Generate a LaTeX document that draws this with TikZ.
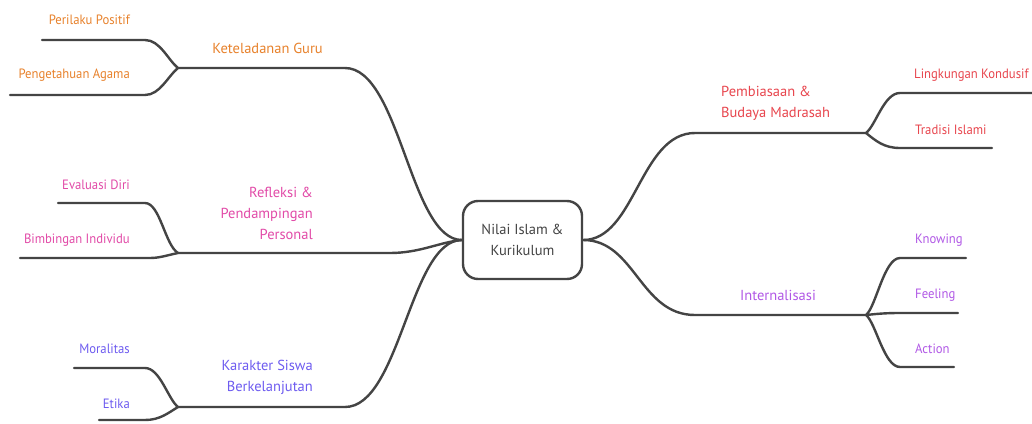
\documentclass[tikz,border=0pt]{standalone}
\usepackage{fontspec}
\setmainfont{PT Sans}
\newfontfamily\leaffont[FakeStretch=0.94]{PT Sans}
\definecolor{cOr}{HTML}{E8822C}
\definecolor{cPk}{HTML}{E24BA8}
\definecolor{cBl}{HTML}{6E5CF0}
\definecolor{cRd}{HTML}{E8464E}
\definecolor{cPu}{HTML}{B158E6}
\definecolor{cLn}{HTML}{444444}
\begin{document}
\begin{tikzpicture}[x=1pt,y=-1pt,
  br/.style={draw=cLn,line width=2.4pt,line cap=round},
  lab/.style={inner sep=0pt,font=\leaffont\fontsize{13.5}{16}\selectfont},
  mlab/.style={inner sep=0pt,font=\fontsize{14.5}{21}\selectfont,align=right},
]
\useasboundingbox (0,0) rectangle (1032,423);
\fill[white] (0,0) rectangle (1032,423);
% centre
\node[draw=cLn,line width=2.4pt,rounded corners=15pt,minimum width=119pt,minimum height=78pt,
  align=center,text=cLn,font=\fontsize{14.5}{21}\selectfont] (c) at (522.5,240) {Nilai Islam \&\\Kurikulum};
% fork points
\coordinate (f1) at (178,68);
\coordinate (f2) at (178,253);
\coordinate (f3) at (178,407);
\coordinate (f4) at (866,133);
\coordinate (f5) at (866,315);
% leaf line ends
\coordinate (a1) at (42,40);
\coordinate (a2) at (10,95);
\coordinate (b1) at (58,203);
\coordinate (b2) at (20,258);
\coordinate (d1) at (74,368);
\coordinate (d2) at (99,420);
\coordinate (e1) at (1032,93);
\coordinate (e2) at (992,148);
\coordinate (g1) at (966,258);
\coordinate (g2) at (958,313);
\coordinate (g3) at (954,367);
% main branches
\draw[br] (c.west) .. controls (410,240) and (400,68) .. (345,68) -- (f1);
\draw[br] (c.west) .. controls (440,242) and (420,253) .. (390,253) -- (f2);
\draw[br] (c.west) .. controls (410,240) and (400,407) .. (345,407) -- (f3);
\draw[br] (c.east) .. controls (635,240) and (640,133) .. (695,133) -- (f4);
\draw[br] (c.east) .. controls (635,240) and (640,315) .. (695,315) -- (f5);
% sub branches left
\draw[br] (f1) .. controls (168,60) and (160,40) .. (145,40) -- (a1);
\draw[br] (f1) .. controls (168,76) and (160,95) .. (145,95) -- (a2);
\draw[br] (f2) .. controls (165,245) and (160,203) .. (145,203) -- (b1);
\draw[br] (f2) .. controls (168,255) and (160,258) .. (150,258) -- (b2);
\draw[br] (f3) .. controls (168,399) and (160,368) .. (145,368) -- (d1);
\draw[br] (f3) .. controls (168,413) and (160,420) .. (145,420) -- (d2);
% sub branches right
\draw[br] (f4) .. controls (876,125) and (884,93) .. (900,93) -- (e1);
\draw[br] (f4) .. controls (876,141) and (884,148) .. (900,148) -- (e2);
\draw[br] (f5) .. controls (876,307) and (884,258) .. (900,258) -- (g1);
\draw[br] (f5) .. controls (876,314) and (884,313) .. (900,313) -- (g2);
\draw[br] (f5) .. controls (876,323) and (884,367) .. (900,367) -- (g3);
% main labels
\node[mlab,text=cOr,anchor=east] (t1) at (323,48) {Keteladanan Guru};
\node[mlab,text=cPk,anchor=east] (t2) at (313,213) {Refleksi \&\\Pendampingan\\Personal};
\node[mlab,text=cBl,anchor=east] (t3) at (313,377) {Karakter Siswa\\Berkelanjutan};
\node[mlab,text=cRd,anchor=west,align=left] (t4) at (721,103) {Pembiasaan \&\\Budaya Madrasah};
\node[mlab,text=cPu] (t5) at (778,295) {Internalisasi};
% leaf labels
\node[lab,text=cOr,anchor=east] (l1) at (130,20) {Perilaku Positif};
\node[lab,text=cOr,anchor=east] (l2) at (130,75) {Pengetahuan Agama};
\node[lab,text=cPk,anchor=east] (l3) at (130,185) {Evaluasi Diri};
\node[lab,text=cPk,anchor=east] (l4) at (130,240) {Bimbingan Individu};
\node[lab,text=cBl,anchor=east] (l5) at (130,349) {Moralitas};
\node[lab,text=cBl,anchor=east] (l6) at (130,404) {Etika};
\node[lab,text=cRd,anchor=west] (l7) at (914,75) {Lingkungan Kondusif};
\node[lab,text=cRd,anchor=west] (l8) at (915,130) {Tradisi Islami};
\node[lab,text=cPu,anchor=west] (l9) at (915,240) {Knowing};
\node[lab,text=cPu,anchor=west] (l10) at (915,295) {Feeling};
\node[lab,text=cPu,anchor=west] (l11) at (915,349) {Action};
\end{tikzpicture}
\end{document}
